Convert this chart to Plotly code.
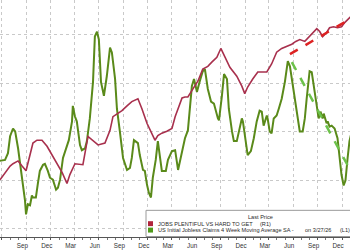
import plotly.graph_objects as go

# ---- data ----
claims_dates = ["2022-06-21","2022-07-13","2022-07-24","2022-08-01","2022-08-12","2022-08-20","2022-08-31","2022-09-15","2022-09-26","2022-09-30",
"2022-10-07","2022-10-15","2022-10-22","2022-10-26","2022-11-06","2022-11-14","2022-11-21","2022-12-03","2022-12-10","2022-12-21",
"2022-12-29","2023-01-09","2023-01-13","2023-01-21","2023-01-28","2023-02-05","2023-02-16","2023-03-03","2023-03-10","2023-03-22",
"2023-03-25","2023-04-02","2023-04-09","2023-04-21","2023-04-28","2023-05-10","2023-05-17","2023-05-28","2023-06-09","2023-06-16",
"2023-06-24","2023-07-01","2023-07-09","2023-07-20","2023-07-31","2023-08-12","2023-08-19","2023-08-31","2023-09-07","2023-09-18",
"2023-09-30","2023-10-15","2023-10-26","2023-11-02","2023-11-10","2023-11-25","2023-12-02","2023-12-14","2023-12-21","2023-12-29",
"2024-01-05","2024-01-13","2024-01-20","2024-01-31","2024-02-08","2024-02-15","2024-02-23","2024-03-09","2024-03-17","2024-04-01",
"2024-04-13","2024-04-24","2024-05-09","2024-05-20","2024-05-31","2024-06-08","2024-06-15","2024-06-23","2024-07-04","2024-07-15",
"2024-07-26","2024-08-03","2024-08-14","2024-08-26","2024-09-06","2024-09-21","2024-09-25","2024-10-06","2024-10-14","2024-10-25",
"2024-11-01","2024-11-13","2024-11-20","2024-12-01","2024-12-09","2024-12-20","2024-12-24","2025-01-04","2025-01-11","2025-01-23",
"2025-02-03","2025-02-14","2025-02-25","2025-03-05","2025-03-12","2025-03-24","2025-03-27","2025-04-04","2025-04-11","2025-04-19",
"2025-04-30","2025-05-08","2025-05-19","2025-05-31","2025-06-11","2025-06-19","2025-06-26","2025-07-07","2025-07-19","2025-07-26",
"2025-08-06","2025-08-14","2025-08-21","2025-09-01","2025-09-09","2025-09-20","2025-10-01","2025-10-05","2025-10-12","2025-10-20",
"2025-10-24","2025-11-04","2025-11-08","2025-11-15","2025-11-23","2025-12-04","2025-12-15","2025-12-23","2025-12-30","2026-01-07",
"2026-01-14","2026-01-22","2026-01-29","2026-02-05"]
claims_values = [221.0,221.3,223.4,228.6,231.0,230.1,224.9,215.8,208.8,204.5,
207.6,207.3,210.3,209.7,209.7,214.3,217.9,219.8,220.1,217.9,
215.8,215.2,214.3,212.1,212.7,215.2,221.9,225.9,227.4,233.2,
238.0,234.7,233.2,225.9,224.3,224.9,227.1,234.1,245.4,259.4,
260.9,258.5,245.4,241.1,247.2,256.0,254.5,246.3,237.1,230.1,
221.9,218.2,218.8,221.9,227.4,226.5,222.8,218.2,217.9,213.7,
211.2,209.7,215.8,221.3,227.1,222.8,217.9,217.9,221.3,224.0,
224.3,218.2,224.0,228.0,230.4,237.1,244.1,246.3,242.3,245.7,
248.7,249.3,243.2,239.3,238.7,234.1,233.5,241.1,247.8,246.3,
237.1,230.1,227.1,227.1,230.4,234.1,233.2,227.1,222.8,224.0,
228.0,233.2,236.5,236.2,231.9,235.0,234.1,230.1,229.5,234.1,
235.0,237.1,240.2,245.4,251.8,250.2,246.3,240.2,233.2,230.1,
230.1,234.1,240.2,248.7,248.4,242.3,237.7,234.1,236.2,234.1,
235.6,232.6,233.2,231.6,231.9,231.0,228.0,222.8,216.7,213.4,
214.9,221.9,227.1,229.5]

jobs_dates = ["2022-06-24","2022-07-13","2022-08-01","2022-08-12","2022-08-31","2022-09-15","2022-09-30","2022-10-15","2022-10-26","2022-11-10",
"2022-11-29","2022-12-18","2023-01-06","2023-01-25","2023-02-13","2023-03-03","2023-03-14","2023-04-02","2023-04-21","2023-05-02",
"2023-05-21","2023-06-09","2023-06-28","2023-07-24","2023-08-12","2023-08-23","2023-09-11","2023-09-26","2023-10-15","2023-11-02",
"2023-11-25","2023-12-10","2023-12-29","2024-01-17","2024-01-28","2024-02-08","2024-02-23","2024-03-13","2024-04-01","2024-04-13",
"2024-04-24","2024-05-09","2024-05-20","2024-05-31","2024-06-19","2024-07-08","2024-07-26","2024-08-14","2024-08-29","2024-09-17",
"2024-10-02","2024-10-17","2024-11-05","2024-12-01","2024-12-20","2024-12-31","2025-01-11","2025-01-30","2025-02-18","2025-03-05",
"2025-03-24","2025-04-11","2025-04-30","2025-05-19","2025-06-07","2025-06-26","2025-07-11","2025-07-26","2025-08-14","2025-09-01",
"2025-09-16","2025-09-28","2025-10-09","2025-10-20","2025-11-04","2025-11-15","2025-11-30","2025-12-15","2025-12-30","2026-01-11",
"2026-01-29","2026-02-09"]
jobs_values = [42.0,40.5,39.1,38.6,38.0,39.1,40.1,36.7,34.2,33.6,
33.6,34.9,36.7,38.4,40.5,42.8,40.9,38.6,38.8,38.8,
32.8,33.8,34.6,34.2,31.5,28.6,27.9,27.3,26.3,25.4,
24.8,26.9,30.0,32.1,33.6,32.6,32.1,31.7,31.1,28.6,
26.9,24.6,24.4,24.4,22.7,21.0,18.5,17.9,17.0,16.0,
14.1,16.0,18.1,20.0,22.1,23.7,22.3,20.6,19.1,19.1,
19.1,17.4,14.9,14.1,13.7,13.2,12.6,12.2,12.6,11.6,
10.7,9.9,10.5,11.6,10.7,9.7,9.5,9.7,9.5,8.6,
7.6,7.0]

jobs_trend_dates = ["2025-06-19", "2026-02-02"]
jobs_trend_values = [15.3, 7.8]
claims_trend_dates = ["2025-06-26", "2026-02-02"]
claims_trend_values = [251.5, 218.0]

tick_dates = ["2022-07-01","2022-10-01","2023-01-01","2023-04-01","2023-07-01","2023-10-01","2024-01-01","2024-04-01",
              "2024-07-01","2024-10-01","2025-01-01","2025-04-01","2025-07-01","2025-10-01","2026-01-01"]
tick_labels = ["Jun","Sep","Dec","Mar","Jun","Sep","Dec","Mar","Jun","Sep","Dec","Mar","Jun","Sep","Dec"]

name_jobs = "JOBS PLENTIFUL VS HARD TO GET"
name_claims = "US Initial Jobless Claims 4 Week Moving Average SA -"

RED = "#a8304d"
GREEN = "#5a8a1a"
FONT = "Liberation Sans"

fig = go.Figure()
fig.add_trace(go.Scatter(x=claims_dates, y=claims_values, mode="lines", name=name_claims,
                         line=dict(color=GREEN, width=2), yaxis="y"))
fig.add_trace(go.Scatter(x=jobs_dates, y=jobs_values, mode="lines", name=name_jobs,
                         line=dict(color=RED, width=1.6), yaxis="y2"))
fig.add_trace(go.Scatter(x=claims_trend_dates, y=claims_trend_values, mode="lines",
                         line=dict(color="#6cc24a", width=2.5, dash="dash"), yaxis="y"))
fig.add_trace(go.Scatter(x=jobs_trend_dates, y=jobs_trend_values, mode="lines",
                         line=dict(color="#dd2222", width=2.5, dash="dash"), yaxis="y2"))

H = 240.0
def py(p):
    return (H - p) / H

shapes = [
    dict(type="rect", xref="paper", yref="paper", x0=146/350, x1=1.01, y0=py(239.5), y1=py(213),
         line=dict(color="#9a9a9a", width=1), fillcolor="white", layer="above"),
    dict(type="rect", xref="paper", yref="paper", x0=148/350, x1=153/350, y0=py(229), y1=py(224),
         line=dict(width=0), fillcolor="#b0243c", layer="above"),
    dict(type="rect", xref="paper", yref="paper", x0=148/350, x1=153/350, y0=py(235.5), y1=py(230.5),
         line=dict(width=0), fillcolor="#4f9a1a", layer="above"),
]

def ann(text, xpx, ypx, anchor="left"):
    return dict(text=text, xref="paper", yref="paper", x=xpx/350, y=py(ypx), xanchor=anchor, yanchor="middle",
                showarrow=False, font=dict(family=FONT, size=5.6, color="#2a2a2a"))

annotations = [
    ann("Last Price", 260, 220, "center"),
    ann(name_jobs, 155.5, 226.7),
    ann("(R1)", 258, 226.7),
    ann(name_claims, 155.5, 233.2),
    ann("on 3/27/26", 303, 233.2),
    ann("(L1)", 338, 233.2),
]

fig.update_layout(
    width=350, height=250,
    margin=dict(l=0, r=0, t=0, b=10),
    paper_bgcolor="white", plot_bgcolor="white",
    showlegend=False,
    shapes=shapes, annotations=annotations,
    xaxis=dict(type="date", range=["2022-06-24", "2026-01-31"],
               tickvals=tick_dates, ticktext=tick_labels, ticklabelshift=-4,
               showgrid=True, gridcolor="#c9c9c9", griddash="dot", gridwidth=1,
               ticks="outside", ticklen=2, tickcolor="#555555",
               showline=True, linecolor="#555555", linewidth=1,
               tickfont=dict(family=FONT, size=6.3, color="#333333"),
               minor=dict(dtick="M1", tick0="2022-07-01", ticks="outside", ticklen=1.5, tickcolor="#777777", showgrid=False),
               zeroline=False),
    yaxis=dict(range=[197.5, 270.67], tickvals=[200, 215, 230, 245, 260], showticklabels=False,
               showgrid=True, gridcolor="#c9c9c9", griddash="dot", gridwidth=1, zeroline=False, ticks=""),
    yaxis2=dict(range=[54.17, 3.80], overlaying="y", side="right", showticklabels=False,
                showgrid=False, zeroline=False, ticks=""),
)

fig.write_html("out.html")
